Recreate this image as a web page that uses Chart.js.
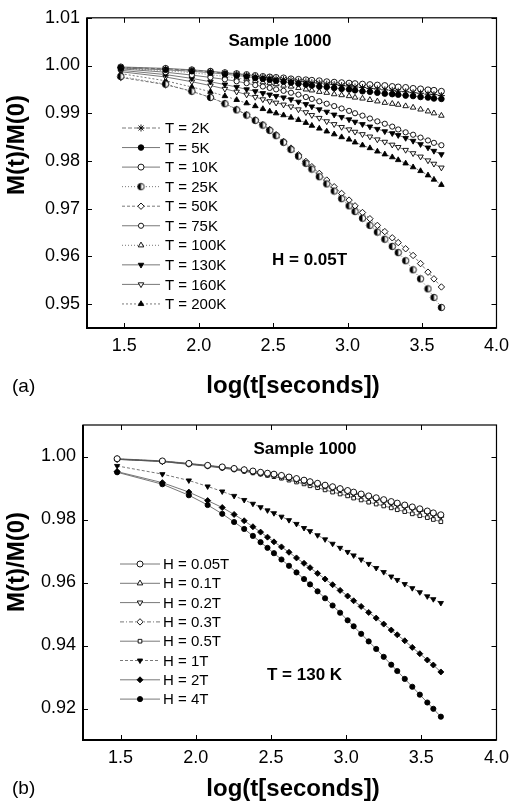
<!DOCTYPE html>
<html>
<head>
<meta charset="utf-8">
<script src="https://cdn.jsdelivr.net/npm/chart.js@4.4.0/dist/chart.umd.min.js"></script>
<style>
  html, body { margin: 0; padding: 0; background: #fff; }
  .panel { position: absolute; left: 0; width: 516px; }
  #wrapA { top: 0; height: 400px; }
  #wrapB { top: 400px; height: 404px; }
</style>
</head>
<body>
<div class="panel" id="wrapA"><canvas id="chartA" width="516" height="400"></canvas></div>
<div class="panel" id="wrapB"><canvas id="chartB" width="516" height="404"></canvas></div>
<script>
// log10 of time in seconds, shared by both panels
const logT = [1.477, 1.778, 1.954, 2.079, 2.176, 2.255, 2.322, 2.380, 2.431, 2.477,
  2.52, 2.57, 2.62, 2.67, 2.72, 2.76, 2.81, 2.86, 2.91, 2.96,
  3.01, 3.05, 3.10, 3.15, 3.20, 3.25, 3.30, 3.34, 3.39, 3.44,
  3.49, 3.54, 3.58, 3.63];

// panel (a): H = 0.05T, different temperatures
const m2K = [0.9996, 0.9993, 0.9990, 0.9987, 0.9984, 0.9982, 0.9979, 0.9977, 0.9975, 0.9974,
  0.9972, 0.9971, 0.9969, 0.9967, 0.9966, 0.9964, 0.9963, 0.9961, 0.9960, 0.9958,
  0.9957, 0.9955, 0.9954, 0.9952, 0.9951, 0.9949, 0.9948, 0.9946, 0.9945, 0.9943,
  0.9942, 0.9940, 0.9939, 0.9937];
const m5K = [0.9995, 0.9991, 0.9988, 0.9985, 0.9982, 0.9979, 0.9977, 0.9974, 0.9972, 0.9970,
  0.9968, 0.9966, 0.9964, 0.9962, 0.9960, 0.9958, 0.9956, 0.9955, 0.9953, 0.9951,
  0.9950, 0.9948, 0.9946, 0.9945, 0.9943, 0.9941, 0.9940, 0.9939, 0.9937, 0.9936,
  0.9934, 0.9933, 0.9931, 0.9930];
const m10K = [0.9997, 0.9994, 0.9991, 0.9988, 0.9985, 0.9983, 0.9981, 0.9979, 0.9977, 0.9976,
  0.9975, 0.9974, 0.9972, 0.9971, 0.9970, 0.9969, 0.9968, 0.9966, 0.9965, 0.9964,
  0.9963, 0.9962, 0.9961, 0.9960, 0.9959, 0.9958, 0.9956, 0.9955, 0.9954, 0.9952,
  0.9951, 0.9949, 0.9948, 0.9946];
const m25K = [0.9977, 0.9961, 0.9946, 0.9933, 0.9920, 0.9907, 0.9896, 0.9885, 0.9875, 0.9864,
  0.9853, 0.9839, 0.9824, 0.9810, 0.9795, 0.9783, 0.9767, 0.9752, 0.9737, 0.9721,
  0.9706, 0.9694, 0.9680, 0.9665, 0.9651, 0.9636, 0.9621, 0.9608, 0.9591, 0.9572,
  0.9553, 0.9532, 0.9514, 0.9493];
const m50K = [0.9975, 0.9960, 0.9946, 0.9933, 0.9921, 0.9908, 0.9897, 0.9886, 0.9876, 0.9866,
  0.9855, 0.9841, 0.9827, 0.9813, 0.9799, 0.9788, 0.9774, 0.9760, 0.9746, 0.9732,
  0.9718, 0.9706, 0.9692, 0.9679, 0.9665, 0.9652, 0.9639, 0.9629, 0.9616, 0.9602,
  0.9585, 0.9567, 0.9553, 0.9536];
const m75K = [0.9993, 0.9986, 0.9980, 0.9975, 0.9971, 0.9967, 0.9963, 0.9959, 0.9956, 0.9953,
  0.9950, 0.9947, 0.9943, 0.9939, 0.9934, 0.9930, 0.9925, 0.9920, 0.9915, 0.9910,
  0.9905, 0.9900, 0.9895, 0.9889, 0.9883, 0.9878, 0.9872, 0.9866, 0.9860, 0.9855,
  0.9849, 0.9843, 0.9838, 0.9833];
const m100K = [0.9994, 0.9989, 0.9985, 0.9981, 0.9977, 0.9974, 0.9971, 0.9968, 0.9965, 0.9963,
  0.9961, 0.9958, 0.9956, 0.9953, 0.9950, 0.9948, 0.9945, 0.9943, 0.9940, 0.9938,
  0.9936, 0.9933, 0.9931, 0.9928, 0.9925, 0.9922, 0.9920, 0.9918, 0.9915, 0.9912,
  0.9908, 0.9904, 0.9900, 0.9895];
const m130K = [0.9990, 0.9981, 0.9973, 0.9966, 0.9960, 0.9955, 0.9950, 0.9946, 0.9942, 0.9939,
  0.9936, 0.9933, 0.9929, 0.9924, 0.9919, 0.9914, 0.9908, 0.9903, 0.9897, 0.9892,
  0.9887, 0.9882, 0.9877, 0.9872, 0.9867, 0.9862, 0.9858, 0.9854, 0.9848, 0.9842,
  0.9835, 0.9828, 0.9821, 0.9814];
const m160K = [0.9987, 0.9976, 0.9966, 0.9958, 0.9951, 0.9945, 0.9939, 0.9934, 0.9929, 0.9925,
  0.9922, 0.9918, 0.9914, 0.9908, 0.9902, 0.9896, 0.9890, 0.9883, 0.9877, 0.9871,
  0.9866, 0.9861, 0.9856, 0.9851, 0.9845, 0.9840, 0.9834, 0.9829, 0.9823, 0.9816,
  0.9809, 0.9801, 0.9794, 0.9786];
const m200K = [0.9983, 0.9968, 0.9955, 0.9945, 0.9936, 0.9928, 0.9921, 0.9915, 0.9909, 0.9904,
  0.9900, 0.9896, 0.9891, 0.9886, 0.9880, 0.9874, 0.9868, 0.9862, 0.9856, 0.9850,
  0.9845, 0.9839, 0.9833, 0.9827, 0.9820, 0.9814, 0.9808, 0.9802, 0.9795, 0.9787,
  0.9779, 0.9770, 0.9761, 0.9750];

// panel (b): T = 130 K, different fields
const h005 = [0.9993, 0.9986, 0.9978, 0.9972, 0.9967, 0.9962, 0.9958, 0.9954, 0.9950, 0.9947,
  0.9944, 0.9940, 0.9935, 0.9930, 0.9925, 0.9920, 0.9915, 0.9909, 0.9904, 0.9898,
  0.9892, 0.9887, 0.9881, 0.9875, 0.9869, 0.9863, 0.9857, 0.9852, 0.9846, 0.9840,
  0.9834, 0.9827, 0.9821, 0.9815];
const h01 = [0.9992, 0.9985, 0.9977, 0.9971, 0.9966, 0.9961, 0.9957, 0.9953, 0.9949, 0.9946,
  0.9943, 0.9939, 0.9934, 0.9929, 0.9924, 0.9919, 0.9914, 0.9908, 0.9903, 0.9897,
  0.9891, 0.9885, 0.9879, 0.9873, 0.9867, 0.9861, 0.9855, 0.9850, 0.9844, 0.9838,
  0.9831, 0.9825, 0.9819, 0.9812];
const h02 = [0.9991, 0.9984, 0.9976, 0.9970, 0.9965, 0.9960, 0.9955, 0.9951, 0.9947, 0.9944,
  0.9941, 0.9937, 0.9932, 0.9927, 0.9922, 0.9917, 0.9912, 0.9906, 0.9900, 0.9894,
  0.9889, 0.9883, 0.9877, 0.9871, 0.9865, 0.9859, 0.9853, 0.9848, 0.9842, 0.9836,
  0.9829, 0.9823, 0.9817, 0.9810];
const h03 = [0.9992, 0.9985, 0.9977, 0.9971, 0.9966, 0.9961, 0.9957, 0.9952, 0.9948, 0.9945,
  0.9942, 0.9938, 0.9933, 0.9928, 0.9923, 0.9918, 0.9913, 0.9907, 0.9901, 0.9896,
  0.9890, 0.9884, 0.9878, 0.9872, 0.9866, 0.9860, 0.9854, 0.9849, 0.9843, 0.9837,
  0.9830, 0.9824, 0.9818, 0.9811];
const h05 = [0.9991, 0.9984, 0.9975, 0.9969, 0.9963, 0.9958, 0.9953, 0.9948, 0.9944, 0.9940,
  0.9936, 0.9931, 0.9925, 0.9919, 0.9913, 0.9907, 0.9901, 0.9894, 0.9887, 0.9881,
  0.9875, 0.9868, 0.9862, 0.9855, 0.9849, 0.9843, 0.9837, 0.9831, 0.9825, 0.9818,
  0.9812, 0.9806, 0.9800, 0.9793];
const h1 = [0.9970, 0.9944, 0.9924, 0.9905, 0.9889, 0.9875, 0.9862, 0.9850, 0.9839, 0.9829,
  0.9820, 0.9809, 0.9798, 0.9786, 0.9773, 0.9763, 0.9750, 0.9737, 0.9723, 0.9710,
  0.9697, 0.9686, 0.9673, 0.9659, 0.9646, 0.9633, 0.9619, 0.9608, 0.9595, 0.9582,
  0.9569, 0.9556, 0.9547, 0.9535];
const h2 = [0.9952, 0.9917, 0.9887, 0.9860, 0.9838, 0.9816, 0.9796, 0.9777, 0.9760, 0.9744,
  0.9729, 0.9713, 0.9696, 0.9678, 0.9661, 0.9647, 0.9629, 0.9611, 0.9593, 0.9575,
  0.9557, 0.9542, 0.9524, 0.9505, 0.9487, 0.9468, 0.9449, 0.9434, 0.9415, 0.9394,
  0.9374, 0.9354, 0.9338, 0.9316];
const h4 = [0.9950, 0.9912, 0.9877, 0.9846, 0.9818, 0.9792, 0.9770, 0.9748, 0.9728, 0.9710,
  0.9693, 0.9673, 0.9653, 0.9632, 0.9611, 0.9594, 0.9572, 0.9550, 0.9527, 0.9504,
  0.9480, 0.9461, 0.9437, 0.9413, 0.9389, 0.9364, 0.9339, 0.9319, 0.9294, 0.9269,
  0.9244, 0.9219, 0.9199, 0.9174];

// axis ranges and tick labels
const xTicks = [1.5, 2.0, 2.5, 3.0, 3.5, 4.0];
const yTicksA = [0.95, 0.96, 0.97, 0.98, 0.99, 1.00, 1.01];
const yTicksB = [0.92, 0.94, 0.96, 0.98, 1.00];
const xRange = { min: 1.25, max: 4.0 };
const yRangeA = { min: 0.945, max: 1.01 };
const yRangeB = { min: 0.91, max: 1.01 };

const FONT = "'Liberation Sans', Arial, sans-serif";

// half filled circle marker (T = 25K)
function halfDot() {
  const c = document.createElement('canvas');
  c.width = 9; c.height = 9;
  const g = c.getContext('2d');
  g.beginPath(); g.arc(4.5, 4.5, 3.2, 0, Math.PI * 2);
  g.fillStyle = '#fff'; g.fill();
  g.beginPath(); g.arc(4.5, 4.5, 3.2, Math.PI * 0.5, Math.PI * 1.5);
  g.closePath(); g.fillStyle = '#000'; g.fill();
  g.beginPath(); g.arc(4.5, 4.5, 3.2, 0, Math.PI * 2);
  g.lineWidth = 0.9; g.strokeStyle = '#000'; g.stroke();
  return c;
}

function series(label, ys, style) {
  return Object.assign({
    label: label,
    data: logT.map((x, i) => ({ x: x, y: ys[i] })),
    showLine: true,
    borderColor: '#555',
    borderWidth: 0.8,
    pointRadius: 2.8,
    pointBorderWidth: 0.9,
    pointBorderColor: '#000',
    pointBackgroundColor: '#fff',
    pointStyle: 'circle'
  }, style || {});
}

const filled = { pointBackgroundColor: '#000' };

function framePlugin(cfg) {
  return {
    id: 'frame',
    afterDraw(chart) {
      const ctx = chart.ctx;
      const a = chart.chartArea;
      const x = chart.scales.x, y = chart.scales.y;
      ctx.save();
      ctx.strokeStyle = '#000';
      ctx.lineWidth = 1.2;
      ctx.strokeRect(a.left, a.top, a.right - a.left, a.bottom - a.top);
      // left and bottom axis a bit heavier
      ctx.lineWidth = 2;
      ctx.beginPath();
      ctx.moveTo(a.left, a.top); ctx.lineTo(a.left, a.bottom); ctx.lineTo(a.right, a.bottom);
      ctx.stroke();
      ctx.lineWidth = 1;
      x.ticks.forEach(t => {
        const px = Math.round(x.getPixelForValue(t.value)) + 0.5;
        ctx.beginPath();
        ctx.moveTo(px, a.bottom); ctx.lineTo(px, a.bottom - 5);
        ctx.moveTo(px, a.top); ctx.lineTo(px, a.top + 5);
        ctx.stroke();
      });
      y.ticks.forEach(t => {
        const py = Math.round(y.getPixelForValue(t.value)) + 0.5;
        ctx.beginPath();
        ctx.moveTo(a.left, py); ctx.lineTo(a.left + 5, py);
        ctx.moveTo(a.right, py); ctx.lineTo(a.right - 5, py);
        ctx.stroke();
      });

      // texts
      ctx.fillStyle = '#000';
      ctx.textBaseline = 'middle';
      cfg.texts.forEach(t => {
        ctx.font = t.font + ' ' + FONT;
        ctx.textAlign = t.align || 'center';
        if (t.rotate) {
          ctx.save();
          ctx.translate(t.x, t.y);
          ctx.rotate(-Math.PI / 2);
          ctx.fillText(t.text, 0, 0);
          ctx.restore();
        } else {
          ctx.fillText(t.text, t.x, t.y);
        }
      });

      // legend inside the plot
      const L = cfg.legend;
      chart.data.datasets.forEach((ds, i) => {
        const yy = L.y0 + i * L.dy;
        ctx.strokeStyle = ds.borderColor;
        ctx.lineWidth = ds.borderWidth;
        ctx.setLineDash(ds.borderDash || []);
        ctx.beginPath();
        ctx.moveTo(L.x0, yy); ctx.lineTo(L.x1, yy);
        ctx.stroke();
        ctx.setLineDash([]);
        ctx.fillStyle = ds.pointBackgroundColor;
        ctx.strokeStyle = ds.pointBorderColor;
        ctx.lineWidth = ds.pointBorderWidth;
        Chart.helpers.drawPoint(ctx, {
          pointStyle: ds.pointStyle,
          rotation: ds.pointRotation || 0,
          radius: ds.pointRadius,
          borderWidth: ds.pointBorderWidth
        }, (L.x0 + L.x1) / 2, yy);
        ctx.fillStyle = '#000';
        ctx.font = '15px ' + FONT;
        ctx.textAlign = 'left';
        ctx.fillText(ds.label, L.xt, yy + 1);
      });
      ctx.restore();
    }
  };
}

function makeOptions(xr, yr, xVals, yVals, pad, yWidth, xHeight, yDigits) {
  return {
    responsive: false,
    animation: false,
    layout: { padding: pad },
    plugins: { legend: { display: false }, tooltip: { enabled: false } },
    scales: {
      x: {
        type: 'linear', min: xr.min, max: xr.max,
        grid: { display: false, drawTicks: false },
        border: { display: false },
        afterBuildTicks: s => { s.ticks = xVals.map(v => ({ value: v })); },
        ticks: {
          padding: 7, color: '#000',
          font: { family: FONT, size: 18 },
          callback: v => v.toFixed(1)
        },
        afterFit: s => { s.height = xHeight; }
      },
      y: {
        type: 'linear', min: yr.min, max: yr.max,
        grid: { display: false, drawTicks: false },
        border: { display: false },
        afterBuildTicks: s => { s.ticks = yVals.map(v => ({ value: v })); },
        ticks: {
          padding: 7, color: '#000',
          font: { family: FONT, size: 18 },
          callback: v => v.toFixed(yDigits)
        },
        afterFit: s => { s.width = yWidth; }
      }
    }
  };
}

new Chart(document.getElementById('chartA'), {
  type: 'scatter',
  data: {
    datasets: [
      series('T = 2K', m2K, { pointStyle: 'star', pointRadius: 3.5, borderDash: [4, 2] }),
      series('T = 5K', m5K, filled),
      series('T = 10K', m10K, { pointRadius: 3 }),
      series('T = 25K', m25K, { pointStyle: halfDot(), borderDash: [1, 2] }),
      series('T = 50K', m50K, { pointStyle: 'rectRot', pointRadius: 3.2, borderDash: [3, 2] }),
      series('T = 75K', m75K, { pointRadius: 2.6 }),
      series('T = 100K', m100K, { pointStyle: 'triangle', pointRadius: 3.2, borderDash: [1, 2] }),
      series('T = 130K', m130K, Object.assign({ pointStyle: 'triangle', pointRotation: 180, pointRadius: 3.2 }, filled)),
      series('T = 160K', m160K, { pointStyle: 'triangle', pointRotation: 180, pointRadius: 3.2 }),
      series('T = 200K', m200K, Object.assign({ pointStyle: 'triangle', pointRadius: 3.2, borderDash: [2, 2] }, filled))
    ]
  },
  options: makeOptions(xRange, yRangeA, xTicks, yTicksA, { left: 0, right: 14, top: 15, bottom: 0 }, 87, 72, 2),
  plugins: [framePlugin({
    texts: [
      { text: 'M(t)/M(0)', x: 17, y: 145, font: 'bold 24px', rotate: true },
      { text: 'log(t[seconds])', x: 293, y: 386, font: 'bold 24px' },
      { text: '(a)', x: 12, y: 387, font: '19px', align: 'left' },
      { text: 'Sample 1000', x: 280, y: 41, font: 'bold 17px' },
      { text: 'H = 0.05T', x: 272, y: 260, font: 'bold 17px', align: 'left' }
    ],
    legend: { x0: 122, x1: 160, xt: 165, y0: 128, dy: 19.55 }
  })]
});

new Chart(document.getElementById('chartB'), {
  type: 'scatter',
  data: {
    datasets: [
      series('H = 0.05T', h005, { pointRadius: 3 }),
      series('H = 0.1T', h01, { pointStyle: 'triangle', pointRadius: 3.2 }),
      series('H = 0.2T', h02, { pointStyle: 'triangle', pointRotation: 180, pointRadius: 3.2 }),
      series('H = 0.3T', h03, { pointStyle: 'rectRot', pointRadius: 3.2, borderDash: [4, 2, 1, 2] }),
      series('H = 0.5T', h05, { pointStyle: 'rect', pointRadius: 2.6 }),
      series('H = 1T', h1, Object.assign({ pointStyle: 'triangle', pointRotation: 180, pointRadius: 3, borderDash: [3, 2] }, filled)),
      series('H = 2T', h2, Object.assign({ pointStyle: 'rectRot', pointRadius: 3 }, filled)),
      series('H = 4T', h4, Object.assign({ pointRadius: 2.6 }, filled))
    ]
  },
  options: makeOptions(xRange, yRangeB, xTicks, yTicksB, { left: 0, right: 13, top: 25, bottom: 0 }, 83, 64, 2),
  plugins: [framePlugin({
    texts: [
      { text: 'M(t)/M(0)', x: 17, y: 162, font: 'bold 24px', rotate: true },
      { text: 'log(t[seconds])', x: 293, y: 389, font: 'bold 24px' },
      { text: '(b)', x: 12, y: 389, font: '19px', align: 'left' },
      { text: 'Sample 1000', x: 305, y: 49, font: 'bold 17px' },
      { text: 'T = 130 K', x: 267, y: 275, font: 'bold 17px', align: 'left' }
    ],
    legend: { x0: 120, x1: 160, xt: 163, y0: 164, dy: 19.3 }
  })]
});
</script>
</body>
</html>
